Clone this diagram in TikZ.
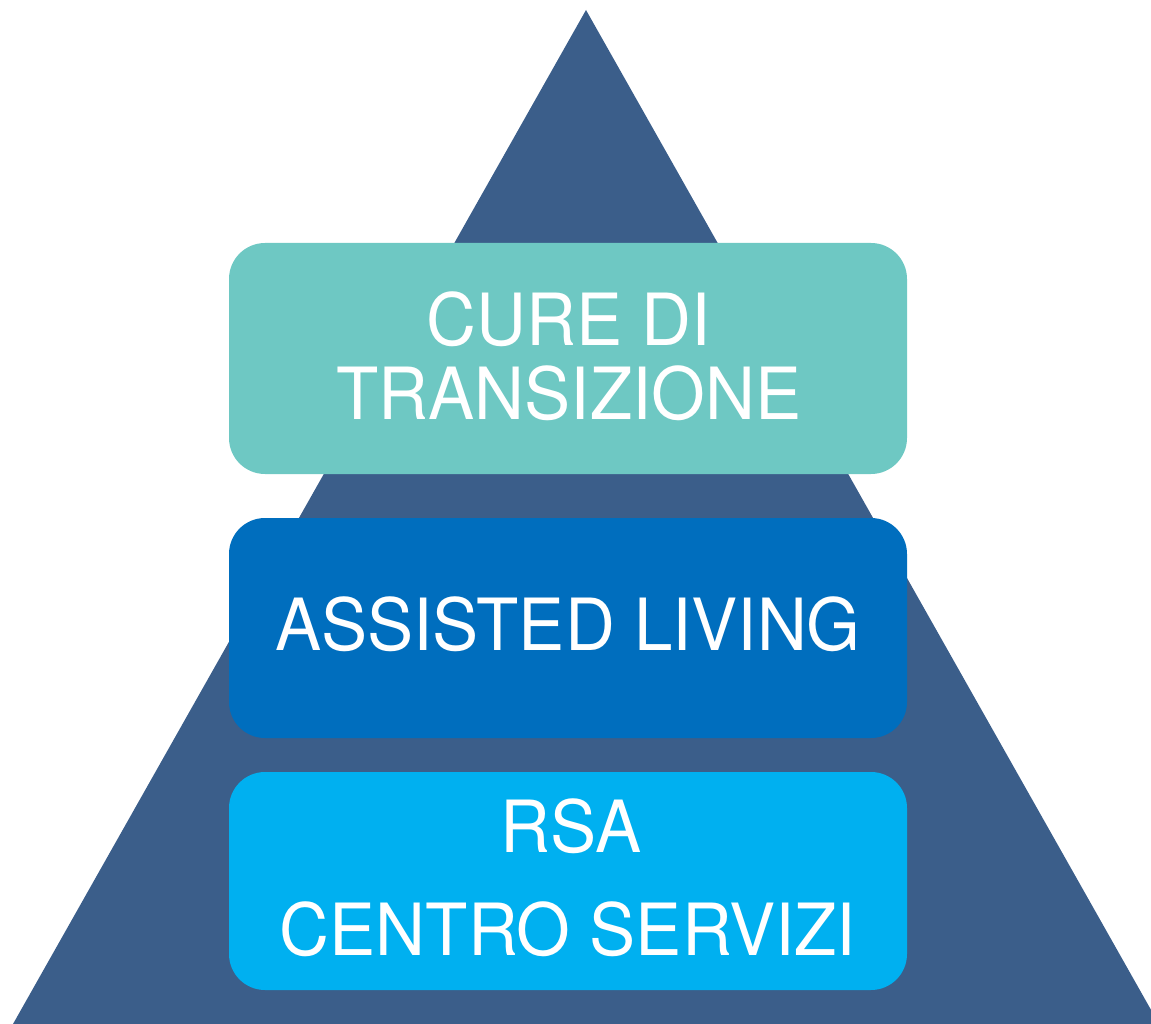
\documentclass[tikz,border=0pt]{standalone}
\usepackage{fontspec}
\setmainfont{TeX Gyre Heros}[FakeStretch=0.96]
\definecolor{tri}{HTML}{3B5E8A}
\definecolor{cone}{HTML}{6EC8C3}
\definecolor{ctwo}{HTML}{006EBE}
\definecolor{cthree}{HTML}{00B0F0}
\tikzset{
  tierbox/.style={rounded corners=36pt, minimum width=678pt, inner sep=0pt, draw=none},
  tiertext/.style={text=white, anchor=base, inner sep=0pt, font=\fontsize{72}{72}\selectfont}
}
\begin{document}
\begin{tikzpicture}[x=1pt,y=-1pt]
\useasboundingbox (0,0) rectangle (1151,1024);
\clip (0,0) rectangle (1151,1024);
\fill[tri] (586,10) -- (13,1024) -- (1159,1024) -- cycle;
\node[tierbox, fill=cone, minimum height=231pt] (b1) at (568,358.5) {};
\node[tierbox, fill=ctwo, minimum height=220pt] (b2) at (568,628) {};
\node[tierbox, fill=cthree, minimum height=218pt] (b3) at (568,881) {};
\node[tiertext] (t1a) at (569,345) {CURE DI};
\node[tiertext] (t1b) at (569,419) {TRANSIZIONE};
\node[tiertext] (t2) at (568,650) {ASSISTED LIVING};
\node[tiertext] (t3a) at (571,852) {RSA};
\node[tiertext] (t3b) at (568,955) {CENTRO SERVIZI};
\end{tikzpicture}
\end{document}
